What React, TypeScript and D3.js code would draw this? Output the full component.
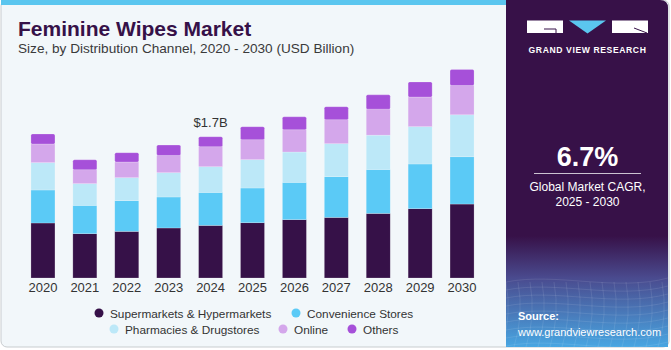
import * as d3 from "d3";

const years = ["2020", "2021", "2022", "2023", "2024", "2025", "2026", "2027", "2028", "2029", "2030"];
const supermarkets = [0.662, 0.533, 0.561, 0.602, 0.633, 0.665, 0.702, 0.729, 0.777, 0.834, 0.89];
const convenience = [0.397, 0.341, 0.369, 0.373, 0.397, 0.418, 0.449, 0.49, 0.529, 0.538, 0.569];
const pharmacies = [0.329, 0.261, 0.277, 0.292, 0.309, 0.341, 0.365, 0.397, 0.413, 0.449, 0.505];
const online = [0.225, 0.168, 0.189, 0.208, 0.241, 0.241, 0.268, 0.289, 0.313, 0.357, 0.353];
const others = [0.12, 0.12, 0.112, 0.124, 0.12, 0.156, 0.156, 0.156, 0.172, 0.181, 0.193];

const seriesNames = [
  "Supermarkets & Hypermarkets",
  "Convenience Stores",
  "Pharmacies & Drugstores",
  "Online",
  "Others",
];
const colors = ["#361148", "#5bcaf6", "#bce8f8", "#d4a7eb", "#a650d9"];
const annotateYear = "2024";
const annotateText = "$1.7B";

const W = 671;
const H = 350;
const panelX = 506;

export default function App() {
  const rows = years.map((y, i) => ({
    year: y,
    s0: supermarkets[i],
    s1: convenience[i],
    s2: pharmacies[i],
    s3: online[i],
    s4: others[i],
  }));
  const keys = ["s0", "s1", "s2", "s3", "s4"];
  const stacked = d3.stack<any>().keys(keys)(rows);

  const x = d3
    .scaleBand()
    .domain(years)
    .range([22, 483])
    .paddingInner(0.427)
    .paddingOuter(0.2135);
  const y = d3.scaleLinear().domain([0, 2.5]).range([278, 278 - 2.5 * 83.1]);

  const annIdx = years.indexOf(annotateYear);
  const annTotal = stacked[stacked.length - 1][annIdx][1];

  // legend layout (two centred rows)
  const legendRows = [
    [
      { i: 0, cx: 99 },
      { i: 1, cx: 296 },
    ],
    [
      { i: 2, cx: 114 },
      { i: 3, cx: 283 },
      { i: 4, cx: 352 },
    ],
  ];

  // faint wave grid in the panel bottom
  const gridLines: string[] = [];
  for (let k = 0; k < 9; k++) {
    const yy = 282 + k * 8;
    gridLines.push(
      `M${panelX},${yy} C${panelX + 50},${yy - 10} ${panelX + 110},${yy + 10} 668,${yy - 4}`
    );
  }
  for (let k = 0; k < 14; k++) {
    const xx = panelX + k * 12;
    gridLines.push(`M${xx},282 Q${xx + 6},315 ${xx - 4},347`);
  }

  return (
    <svg
      width={W}
      height={H}
      style={{ position: "absolute", left: 0, top: 0, fontFamily: "'Liberation Sans', Arial, sans-serif" }}
    >
      <defs>
        <linearGradient id="panelGrad" x1="0" y1="0" x2="0" y2="1">
          <stop offset="0%" stopColor="#371148" />
          <stop offset="68%" stopColor="#371148" />
          <stop offset="80%" stopColor="#4a4a8e" />
          <stop offset="100%" stopColor="#48a6e2" />
        </linearGradient>
        <clipPath id="panelClip">
          <path d={`M${panelX},0 H660 Q668,0 668,8 V347 H${panelX} Z`} />
        </clipPath>
      </defs>

      {/* card */}
      <rect x={1} y={0} width={668} height={347} rx={6} fill="#f2f7fa" stroke="#c8cccf" strokeWidth={1} />
      <rect x={1} y={0} width={panelX - 1} height={5} fill="#5bc6ef" />

      {/* right panel */}
      <g clipPath="url(#panelClip)">
        <rect x={panelX} y={0} width={668 - panelX} height={347} fill="url(#panelGrad)" />
        {gridLines.map((d, k) => (
          <path key={k} d={d} fill="none" stroke="#ffffff" strokeOpacity={0.12} strokeWidth={0.8} />
        ))}
      </g>

      {/* logo */}
      <rect x={527} y={20.5} width={36} height={12.5} fill="#ffffff" />
      <path d="M569,20.5 L606,20.5 L587.5,33.5 Z" fill="#5bc6ef" />
      <rect x={612} y={20.5} width={36} height={12.5} fill="#ffffff" />
      <path d="M544,29 H556 V33" fill="none" stroke="#371148" strokeWidth={1} />
      <path d="M634,28 L647,33" fill="none" stroke="#371148" strokeWidth={1} />
      <text x={587.5} y={53} textAnchor="middle" fill="#ffffff" fontSize={8.6} fontWeight="bold" letterSpacing={0.6}>
        GRAND VIEW RESEARCH
      </text>

      <text x={587.5} y={166} textAnchor="middle" fill="#ffffff" fontSize={27} fontWeight="bold">
        6.7%
      </text>
      <line x1={534} x2={641} y1={173.5} y2={173.5} stroke="#ffffff" strokeOpacity={0.75} strokeWidth={1} />
      <text x={587.5} y={191} textAnchor="middle" fill="#ffffff" fontSize={12}>
        Global Market CAGR,
      </text>
      <text x={587.5} y={206} textAnchor="middle" fill="#ffffff" fontSize={12}>
        2025 - 2030
      </text>

      <text x={518} y={320} fill="#ffffff" fontSize={11} fontWeight="bold">
        Source:
      </text>
      <text x={518} y={336} fill="#ffffff" fontSize={11}>
        www.grandviewresearch.com
      </text>

      {/* titles */}
      <text x={18} y={35.5} fill="#361148" fontSize={21} fontWeight="bold">
        Feminine Wipes Market
      </text>
      <text x={18} y={53} fill="#3a3a3a" fontSize={13.6}>
        Size, by Distribution Channel, 2020 - 2030 (USD Billion)
      </text>

      {/* bars */}
      {stacked.map((layer, li) => (
        <g key={li} fill={colors[li]}>
          {layer.map((d: any) => (
            <rect
              key={d.data.year}
              x={x(d.data.year)}
              y={y(d[1])}
              width={x.bandwidth()}
              height={y(d[0]) - y(d[1])}
              rx={li === stacked.length - 1 ? 1.5 : 0}
              stroke="#ffffff"
              strokeOpacity={0.35}
              strokeWidth={0.6}
            />
          ))}
        </g>
      ))}

      {/* x labels */}
      {years.map((yr) => (
        <text
          key={yr}
          x={(x(yr) as number) + x.bandwidth() / 2}
          y={292}
          textAnchor="middle"
          fill="#333333"
          fontSize={13}
        >
          {yr}
        </text>
      ))}

      {/* annotation */}
      <text
        x={(x(annotateYear) as number) + x.bandwidth() / 2}
        y={y(annTotal) - 10}
        textAnchor="middle"
        fill="#333333"
        fontSize={13}
      >
        {annotateText}
      </text>

      {/* legend */}
      {legendRows.map((row, ri) =>
        row.map((item) => (
          <g key={item.i}>
            <circle cx={item.cx} cy={313 + ri * 16} r={4.5} fill={colors[item.i]} />
            <text x={item.cx + 11} y={317.5 + ri * 16} fill="#333333" fontSize={11.8}>
              {seriesNames[item.i]}
            </text>
          </g>
        ))
      )}
    </svg>
  );
}
